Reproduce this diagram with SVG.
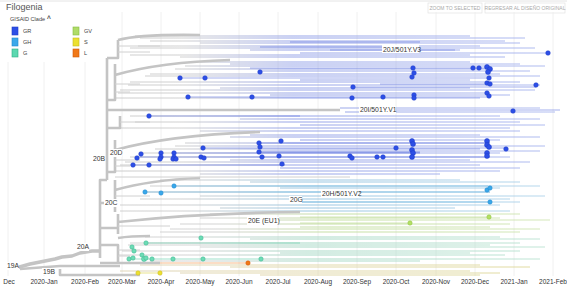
<svg xmlns="http://www.w3.org/2000/svg" width="567" height="288" viewBox="0 0 567 288">
<defs>
<style>
text{font-family:"Liberation Sans",Arial,sans-serif}
.ax{font-size:6.5px;fill:#333;text-anchor:middle}
.cl{font-size:6.8px;fill:#333}
.lg{font-size:5.6px;fill:#444}
.bt{font-size:5px;fill:#aaa;text-anchor:middle}
.grid{stroke:#ececec;stroke-width:0.8;fill:none}
.br{stroke:#c4c4c4;stroke-width:2.6;fill:none;stroke-linejoin:round}
.brt{stroke:#d0d0d0;stroke-width:1;fill:none}
.ln{fill:none;stroke-width:1;stroke-opacity:0.85}
.lgr{stroke:url(#gGR)}
.lgh{stroke:url(#gGH)}
.lg_{stroke:url(#gG)}
.lgv{stroke:url(#gGV)}
.ls{stroke:url(#gS)}
.dk{fill:none;stroke-width:1.1;stroke-opacity:0.5}
.dgr{fill:#2d4fe6;stroke:#1e3cc8;stroke-width:0.5}
.dgh{fill:#3aa8ea;stroke:#2288cc;stroke-width:0.5}
.dg{fill:#6ddcb6;stroke:#3cb48e;stroke-width:0.5}
.dgv{fill:#b4e064;stroke:#8cc040;stroke-width:0.5}
.ds{fill:#ece030;stroke:#c8b820;stroke-width:0.5}
.dl{fill:#f07818;stroke:#d05808;stroke-width:0.5}
.lab{fill:#fff}
</style>
<linearGradient id="gGR" gradientUnits="userSpaceOnUse" x1="100" y1="0" x2="560" y2="0">
<stop offset="0" stop-color="#c4c4c4"/><stop offset="0.18" stop-color="#c8c8c8"/><stop offset="0.42" stop-color="#8494e4"/><stop offset="1" stop-color="#a4b2ee"/>
</linearGradient>
<linearGradient id="gGH" gradientUnits="userSpaceOnUse" x1="100" y1="0" x2="560" y2="0">
<stop offset="0" stop-color="#c8c8c8"/><stop offset="0.18" stop-color="#c8c8c8"/><stop offset="0.45" stop-color="#88bcdc"/><stop offset="1" stop-color="#acd2ea"/>
</linearGradient>
<linearGradient id="gG" gradientUnits="userSpaceOnUse" x1="100" y1="0" x2="560" y2="0">
<stop offset="0" stop-color="#cccccc"/><stop offset="0.2" stop-color="#cccccc"/><stop offset="0.45" stop-color="#98d2bc"/><stop offset="1" stop-color="#b8e2d0"/>
</linearGradient>
<linearGradient id="gGV" gradientUnits="userSpaceOnUse" x1="100" y1="0" x2="560" y2="0">
<stop offset="0" stop-color="#cccccc"/><stop offset="0.25" stop-color="#cccccc"/><stop offset="0.5" stop-color="#bcda94"/><stop offset="1" stop-color="#cee4b0"/>
</linearGradient>
<linearGradient id="gS" gradientUnits="userSpaceOnUse" x1="100" y1="0" x2="560" y2="0">
<stop offset="0" stop-color="#d8cdb0"/><stop offset="0.3" stop-color="#dcd0a0"/><stop offset="1" stop-color="#dcd690"/>
</linearGradient>
</defs>
<rect width="567" height="288" fill="#fff"/>
<line x1="0" y1="1" x2="567" y2="1" stroke="#e4e4e4" stroke-width="1"/>

<g id="header">
<text x="6" y="10" style="font-size:9px;fill:#555">Filogenia</text>
<rect x="428" y="3" width="54" height="10" fill="#fff" stroke="#dddddd" stroke-width="0.6"/>
<text class="bt" x="455" y="10">ZOOM TO SELECTED</text>
<rect x="485" y="3" width="80" height="10" fill="#fff" stroke="#dddddd" stroke-width="0.6"/>
<text class="bt" x="525" y="10">REGRESAR AL DISEÑO ORIGINAL</text>
</g>

<g id="legend">
<text class="lg" x="10" y="21">GISAID Clade<tspan style="font-weight:bold;font-size:6.5px"> ^</tspan></text>
<rect x="12" y="27" width="6" height="8" fill="#2d4fe6" stroke="#1e3cc8" stroke-width="0.6"/><text class="lg" x="23" y="33">GR</text>
<rect x="12" y="38" width="6" height="8" fill="#3aa8ea" stroke="#2288cc" stroke-width="0.6"/><text class="lg" x="23" y="44">GH</text>
<rect x="12" y="49" width="6" height="8" fill="#5cd8b0" stroke="#30b088" stroke-width="0.6"/><text class="lg" x="23" y="55">G</text>
<rect x="73" y="27" width="6" height="8" fill="#b0dc68" stroke="#88bc40" stroke-width="0.6"/><text class="lg" x="84" y="33">GV</text>
<rect x="73" y="38" width="6" height="8" fill="#ece030" stroke="#c8b820" stroke-width="0.6"/><text class="lg" x="84" y="44">S</text>
<rect x="73" y="49" width="6" height="8" fill="#f07818" stroke="#d05808" stroke-width="0.6"/><text class="lg" x="84" y="55">L</text>
</g>

<g id="axis">
<path class="grid" d="M8,62V276M44,62V276M85,62V276M122,12V276M161,12V276M200,12V276M239,12V276M278,12V276M318,12V276M357,12V276M396,12V276M436,12V276M475,12V276M514,12V276M553,12V276"/>
<text class="ax" x="9" y="284">Dec</text>
<text class="ax" x="44" y="284">2020-Jan</text>
<text class="ax" x="85" y="284">2020-Feb</text>
<text class="ax" x="122" y="284">2020-Mar</text>
<text class="ax" x="161" y="284">2020-Apr</text>
<text class="ax" x="200" y="284">2020-May</text>
<text class="ax" x="239" y="284">2020-Jun</text>
<text class="ax" x="278" y="284">2020-Jul</text>
<text class="ax" x="318" y="284">2020-Aug</text>
<text class="ax" x="357" y="284">2020-Sep</text>
<text class="ax" x="396" y="284">2020-Oct</text>
<text class="ax" x="436" y="284">2020-Nov</text>
<text class="ax" x="475" y="284">2020-Dec</text>
<text class="ax" x="514" y="284">2021-Jan</text>
<text class="ax" x="553" y="284">2021-Feb</text>
</g>

<g id="connectors">
<path class="ln lgr" d="M135,36H470M140,38H525M150,41H505M200,43H520M138,46H480M130,48H535M250,50H455M300,53H548M130,55H470M180,57H505
M200,62H470M230,64H520M185,66H545M175,69H490M260,71H530M150,74H500M145,76H540M300,80H470M130,82H520M128,85H540M220,88H470M120,90H535M118,93H490M270,95H510M116,98H480
M340,108H540M345,112H555M130,116H500M240,119H540M135,122H520M300,125H545M120,128H510M200,131H520
M250,135H480M230,137H540M300,140H500M185,143H490M175,146H545M155,149H480M260,151H540M140,153H500M130,157H510M230,160H470M125,162H530M120,165H480M280,168H520M116,171H500M200,174H440"/>
<path class="dk" stroke="#4a62dc" d="M290,42H420M260,47H400M330,50H460M180,78H490M250,68H490M353,87H536M188,97H490M380,84H490M149,116H300M259,143H490M204,148H506M140,157H490M133,165H285M174,153H420M260,152H420M360,110H560"/>
<path class="ln lgh" d="M160,180H460M250,182H520M150,186H540M280,188H500M145,192H490M200,196H545M140,199H510M300,202H520M120,205H500M220,208H455M120,211H510"/>
<path class="dk" stroke="#4ea8dc" d="M145,192H490M174,186H488M300,202H490"/>
<path class="ln lgv" d="M210,214H520M200,218H500M260,220H550M180,224H510M300,227H490M170,229H540M160,232H520"/>
<path class="dk" stroke="#a8d070" d="M300,217H489M300,223H410"/>
<path class="ln lg_" d="M145,237H500M250,239H540M130,243H520M128,245H490M200,247H545M122,251H520M280,253H470M118,255H505M260,259H540M150,261H420"/>
<path class="dk" stroke="#40c498" stroke-opacity="0.8" d="M129,259H261M146,243H300"/>
<path class="dk" stroke="#f07818" stroke-opacity="0.85" d="M160,263H249"/>
<path class="ln ls" d="M140,265H480M230,267H530M120,271H470M180,273H500M260,275H480"/>
<path class="dk" stroke="#d8cc30" stroke-opacity="0.8" d="M138,273H160"/>

<path class="br" style="stroke-width:3.4" d="M16,268L30,264L45,261L55,259L62,257L72,256L80,253L92,251H100"/>
<path class="br" d="M20,269L60,266H120M60,269V275H140"/>
<path class="br" d="M100,258V180H107M107,180V58"/>
<path class="br" d="M107,58H118V40M118,40Q140,34 200,35"/>
<path class="br" d="M107,100H115V64M115,75Q160,62 230,60"/>
<path class="br" d="M107,110H340"/>
<path class="br" d="M107,128H120V116"/>
<path class="br" d="M107,172H115V140M115,150Q170,135 260,132"/>
<path class="br" d="M100,203H115V180M115,190Q150,180 200,178M115,212V203"/>
<path class="br" d="M100,228H118V214M118,222Q200,213 300,212M118,234V228"/>
<path class="br" d="M100,245H118V262M118,238Q130,236 150,236"/>
<path class="br" d="M100,263H160"/>
<path class="brt" d="M118,46H160M118,52H150M115,84H140M115,92H130M120,122H150M115,160H140M115,166H130M115,196H150M118,226H170M118,250H140M118,256H130M115,177H350"/>
</g>

<g id="dots">
<g class="dgr">
<circle cx="548" cy="53" r="2.3"/><circle cx="473" cy="68" r="2.3"/><circle cx="479" cy="68" r="2.3"/>
<circle cx="487" cy="67" r="2.5"/><circle cx="490" cy="69" r="2.5"/><circle cx="488" cy="72" r="2.5"/>
<circle cx="413" cy="68" r="2.3"/><circle cx="414" cy="73" r="2.3"/><circle cx="412" cy="77" r="2.3"/>
<circle cx="489" cy="78" r="2.3"/><circle cx="487" cy="83" r="2.3"/><circle cx="490" cy="84" r="2.3"/>
<circle cx="536" cy="85" r="2.3"/><circle cx="353" cy="87" r="2.3"/><circle cx="352" cy="98" r="2.3"/>
<circle cx="383" cy="97" r="2.3"/><circle cx="414" cy="95" r="2.3"/><circle cx="414" cy="98" r="2.3"/>
<circle cx="487" cy="93" r="2.3"/><circle cx="489" cy="96" r="2.3"/><circle cx="513" cy="111" r="2.3"/>
<circle cx="180" cy="78" r="2.3"/><circle cx="205" cy="78" r="2.3"/><circle cx="260" cy="72" r="2.3"/>
<circle cx="188" cy="97" r="2.3"/><circle cx="252" cy="97" r="2.3"/><circle cx="149" cy="116" r="2.3"/>
<circle cx="203" cy="148" r="2.3"/><circle cx="141" cy="154" r="2.3"/><circle cx="137" cy="158" r="2.3"/>
<circle cx="133" cy="165" r="2.3"/><circle cx="149" cy="165" r="2.3"/>
<circle cx="161" cy="153" r="2.3"/><circle cx="161" cy="157" r="2.3"/><circle cx="160" cy="159" r="2.3"/>
<circle cx="174" cy="153" r="2.3"/><circle cx="174" cy="157" r="2.3"/><circle cx="173" cy="159" r="2.3"/><circle cx="176" cy="159" r="2.3"/>
<circle cx="201" cy="157" r="2.3"/><circle cx="204" cy="158" r="2.3"/>
<circle cx="259" cy="143" r="2.3"/><circle cx="260" cy="147" r="2.3"/><circle cx="259" cy="152" r="2.3"/><circle cx="262" cy="157" r="2.3"/>
<circle cx="281" cy="141" r="2.3"/><circle cx="279" cy="156" r="2.3"/><circle cx="282" cy="164" r="2.3"/>
<circle cx="350" cy="156" r="2.3"/><circle cx="352" cy="158" r="2.3"/><circle cx="377" cy="157" r="2.3"/><circle cx="383" cy="157" r="2.3"/>
<circle cx="396" cy="148" r="2.3"/>
<circle cx="412" cy="141" r="2.5"/><circle cx="413" cy="144" r="2.5"/><circle cx="412" cy="150" r="2.5"/><circle cx="413" cy="153" r="2.5"/><circle cx="412" cy="157" r="2.5"/>
<circle cx="487" cy="141" r="2.5"/><circle cx="487" cy="145" r="2.5"/><circle cx="489" cy="147" r="2.5"/><circle cx="487" cy="153" r="2.5"/><circle cx="487" cy="156" r="2.5"/>
<circle cx="506" cy="149" r="2.3"/>
</g>
<g class="dgh">
<circle cx="174" cy="186" r="2.2"/><circle cx="145" cy="192" r="2.2"/><circle cx="161" cy="193" r="2.2"/>
<circle cx="487" cy="190" r="2.2"/><circle cx="490" cy="188" r="2.2"/><circle cx="490" cy="202" r="2.2"/>
</g>
<g class="dgv">
<circle cx="489" cy="217" r="2.2"/><circle cx="410" cy="223" r="2.2"/>
</g>
<g class="dg">
<circle cx="201" cy="238" r="2.2"/><circle cx="146" cy="243" r="2.2"/><circle cx="132" cy="247" r="2.2"/>
<circle cx="134" cy="251" r="2.2"/><circle cx="142" cy="255" r="2.2"/><circle cx="129" cy="259" r="2.2"/>
<circle cx="133" cy="258" r="2.2"/><circle cx="144" cy="259" r="2.5"/><circle cx="146" cy="258" r="2.2"/>
<circle cx="152" cy="259" r="2.2"/><circle cx="173" cy="259" r="2.2"/><circle cx="203" cy="259" r="2.2"/>
<circle cx="261" cy="259" r="2.2"/>
</g>
<circle class="dl" cx="248" cy="263" r="2.2"/>
<g class="ds">
<circle cx="138" cy="273" r="2.2"/><circle cx="160" cy="273" r="2.2"/>
</g>
</g>

<g id="clade-labels">
<g id="n-20J"><rect class="lab" x="382" y="45" width="37" height="8"/><text class="cl" x="383" y="52">20J/501Y.V3</text></g>
<g id="n-20I"><rect class="lab" x="359" y="106" width="37" height="8"/><text class="cl" x="360" y="112">20I/501Y.V1</text></g>
<g id="n-20D"><rect class="lab" x="109" y="149" width="13" height="8"/><text class="cl" x="110" y="155">20D</text></g>
<g id="n-20B"><rect class="lab" x="92" y="155" width="13" height="8"/><text class="cl" x="93" y="161">20B</text></g>
<g id="n-20C"><rect class="lab" x="104" y="199" width="13" height="8"/><text class="cl" x="105" y="205">20C</text></g>
<g id="n-20G"><rect class="lab" x="289" y="196" width="13" height="8"/><text class="cl" x="290" y="202">20G</text></g>
<g id="n-20H"><rect class="lab" x="321" y="190" width="38" height="8"/><text class="cl" x="322" y="196">20H/501Y.V2</text></g>
<g id="n-20E"><rect class="lab" x="247" y="217" width="32" height="8"/><text class="cl" x="248" y="223">20E (EU1)</text></g>
<g id="n-20A"><rect class="lab" x="76" y="243" width="13" height="8"/><text class="cl" x="77" y="249">20A</text></g>
<g id="n-19A"><rect class="lab" x="6" y="262" width="13" height="8"/><text class="cl" x="7" y="268">19A</text></g>
<g id="n-19B"><rect class="lab" x="42" y="268" width="13" height="7"/><text class="cl" x="43" y="274">19B</text></g>
</g>
</svg>
